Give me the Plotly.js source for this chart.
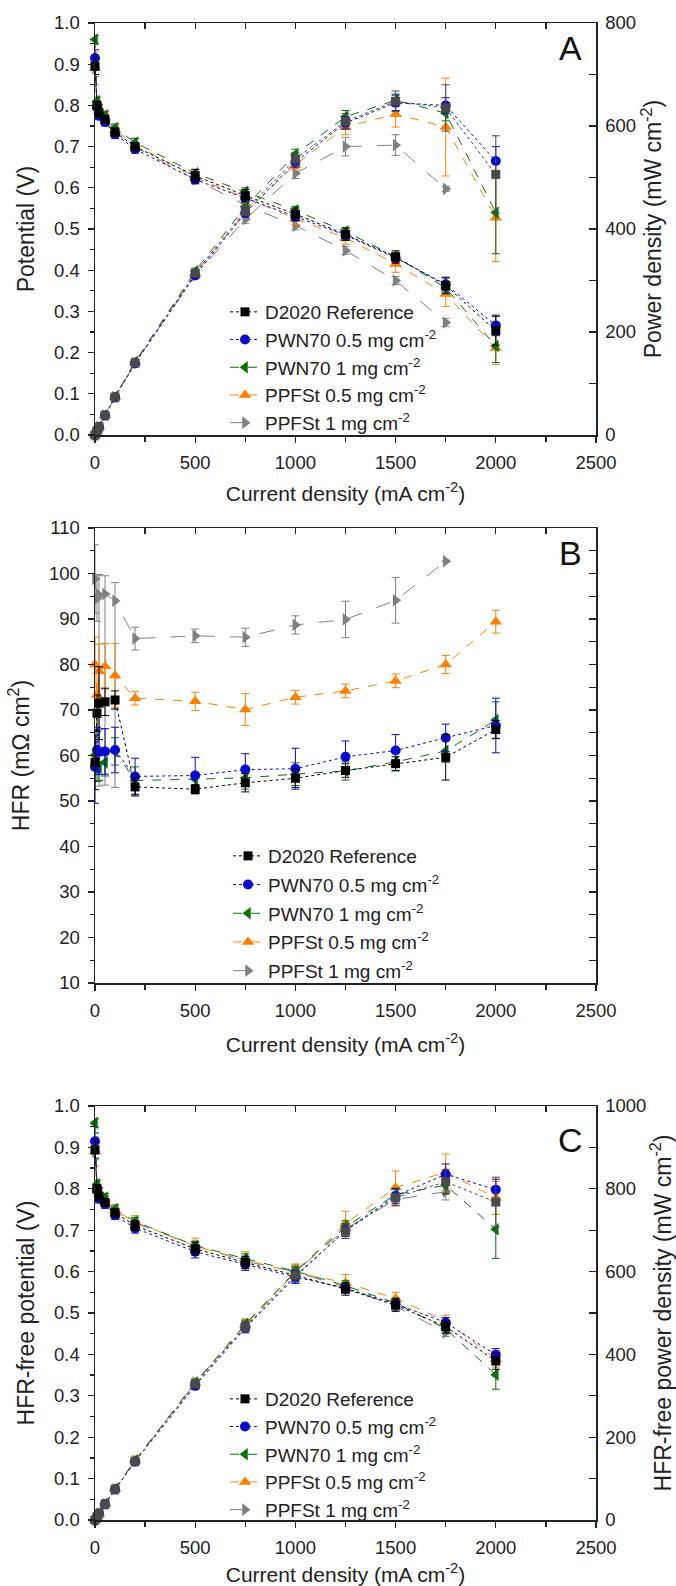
<!DOCTYPE html>
<html><head><meta charset="utf-8">
<script src="https://cdn.plot.ly/plotly-3.0.1.min.js"></script>
<style>html,body{margin:0;padding:0;background:#fff}#chart{width:676px;height:1586px}</style>
</head><body><div id="chart"></div>
<script>
// ---------- data ----------
const current = [0, 10, 20, 50, 100, 200, 500, 750, 1000, 1250, 1500, 1750, 2000];
const currentPPF1 = [0, 10, 20, 50, 100, 200, 500, 750, 1000, 1250, 1500, 1750];

const seriesNames = ['D2020 Reference', 'PWN70 0.5 mg cm<sup>-2</sup>', 'PWN70 1 mg cm<sup>-2</sup>', 'PPFSt 0.5 mg cm<sup>-2</sup>', 'PPFSt 1 mg cm<sup>-2</sup>'];

// Panel A: potential (V)
const potD2020 = [0.895, 0.800, 0.782, 0.766, 0.735, 0.700, 0.629, 0.581, 0.536, 0.487, 0.432, 0.363, 0.253];
const potPWN05 = [0.915, 0.795, 0.775, 0.760, 0.730, 0.694, 0.620, 0.575, 0.530, 0.485, 0.430, 0.366, 0.266];
const potPWN1  = [0.960, 0.810, 0.792, 0.776, 0.745, 0.710, 0.635, 0.590, 0.545, 0.494, 0.433, 0.357, 0.216];
const potPPF05 = [0.890, 0.805, 0.785, 0.770, 0.740, 0.705, 0.625, 0.576, 0.525, 0.478, 0.415, 0.342, 0.211];
const potPPF1  = [0.890, 0.800, 0.780, 0.766, 0.736, 0.700, 0.620, 0.558, 0.508, 0.448, 0.375, 0.273];
const potErrD2020 = [0.02, 0.01, 0.01, 0.01, 0.01, 0.01, 0.015, 0.015, 0.015, 0.015, 0.015, 0.02, 0.035];
const potErrPWN05 = [0.02, 0.01, 0.01, 0.01, 0.01, 0.01, 0.01, 0.01, 0.01, 0.01, 0.01, 0.015, 0.025];
const potErrPWN1  = [0.01, 0.01, 0.01, 0.01, 0.01, 0.01, 0.01, 0.01, 0.01, 0.01, 0.01, 0.01, 0.04];
const potErrPPF05 = [0.04, 0.01, 0.01, 0.01, 0.01, 0.015, 0.015, 0.015, 0.015, 0.015, 0.02, 0.03, 0.04];
const potErrPPF1  = [0.02, 0.01, 0.01, 0.01, 0.01, 0.01, 0.01, 0.01, 0.01, 0.01, 0.01, 0.01];

// Panel A: power density (mW cm-2)
const powD2020 = [0, 8.0, 15.6, 38.3, 73.5, 140, 314, 436, 536, 609, 648, 635, 506];
const powPWN05 = [0, 8.0, 15.5, 38.0, 73.0, 139, 310, 431, 530, 606, 645, 640, 532];
const powPWN1  = [0, 8.1, 15.8, 38.8, 74.5, 142, 318, 443, 545, 618, 650, 625, 432];
const powPPF05 = [0, 8.1, 15.7, 38.5, 74.0, 141, 313, 432, 525, 598, 623, 598, 422];
const powPPF1  = [0, 8.0, 15.6, 38.3, 73.6, 140, 310, 419, 508, 560, 563, 478];
const powErrD2020 = [0, 0.3, 0.5, 1, 2, 3, 6, 10, 12, 15, 20, 45, 75];
const powErrPWN05 = [0, 0.3, 0.5, 1, 2, 3, 6, 8, 10, 12, 15, 15, 28];
const powErrPWN1  = [0, 0.3, 0.5, 1, 2, 3, 6, 8, 10, 12, 12, 15, 80];
const powErrPPF05 = [0, 0.3, 0.5, 1, 2, 3, 6, 8, 10, 15, 25, 95, 85];
const powErrPPF1  = [0, 0.3, 0.5, 1, 2, 3, 6, 8, 10, 18, 20, 5];

// Panel B: HFR (mOhm cm2)
const hfrD2020 = [58.5, 69.3, 71.5, 71.8, 72.2, 53.1, 52.6, 54.0, 55.0, 56.7, 58.2, 59.6, 65.7];
const hfrPWN05 = [57.5, 61.2, 60.8, 60.9, 61.2, 55.4, 55.6, 56.9, 57.1, 59.7, 61.1, 63.9, 66.6];
const hfrPWN1  = [60.1, 57.3, 57.5, 58.5, 60.9, 54.5, 54.8, 55.1, 55.9, 56.6, 58.6, 61.0, 67.8];
const hfrPPF05 = [80.0, 73.3, 78.5, 79.6, 77.6, 72.6, 71.9, 70.1, 72.8, 74.2, 76.4, 80.0, 89.4];
const hfrPPF1  = [98.8, 94.5, 95.3, 95.5, 94.0, 85.7, 86.3, 86.0, 88.7, 89.9, 94.1, 102.7];
const hfrErrD2020 = [6, 4, 8, 3, 2, 2, 1, 2, 2, 1.5, 1.5, 5, 2];
const hfrErrPWN05 = [8, 5, 5, 5, 5, 4, 4, 3.5, 4.5, 3.5, 3.5, 3, 6];
const hfrErrPWN1  = [3, 3, 3, 3, 3, 3, 1.5, 2.5, 2.5, 2, 2, 2.5, 4];
const hfrErrPPF05 = [6, 5, 6, 5, 7, 1.5, 2, 3.5, 1.5, 1.5, 1.5, 2, 2.5];
const hfrErrPPF1  = [7.5, 5, 4.5, 4, 4, 2.5, 1.5, 2, 2, 4, 5, 0];
const hfrErrLowPPF1 = [7.5, 5, 42, 42, 41, 2.5, 1.5, 2, 2, 4, 5, 0];

// Panel C: HFR-free potential (V)
const fpotD2020 = [0.894, 0.800, 0.782, 0.767, 0.742, 0.711, 0.655, 0.622, 0.591, 0.558, 0.519, 0.467, 0.384];
const fpotPWN05 = [0.915, 0.796, 0.776, 0.763, 0.736, 0.705, 0.648, 0.618, 0.587, 0.560, 0.522, 0.477, 0.399];
const fpotPWN1  = [0.959, 0.811, 0.793, 0.779, 0.751, 0.721, 0.663, 0.631, 0.601, 0.566, 0.524, 0.462, 0.351];
const fpotPPF05 = [0.890, 0.806, 0.787, 0.774, 0.748, 0.720, 0.661, 0.628, 0.598, 0.573, 0.535, 0.480, 0.389];
const fpotPPF1  = [0.890, 0.801, 0.782, 0.771, 0.745, 0.717, 0.663, 0.625, 0.599, 0.562, 0.516, 0.453];
const fpotErrD2020 = [0.02, 0.01, 0.01, 0.01, 0.01, 0.012, 0.015, 0.015, 0.015, 0.015, 0.015, 0.015, 0.02];
const fpotErrPWN05 = [0.02, 0.01, 0.01, 0.01, 0.01, 0.012, 0.015, 0.015, 0.015, 0.012, 0.012, 0.012, 0.015];
const fpotErrPWN1  = [0.01, 0.01, 0.01, 0.01, 0.01, 0.01, 0.01, 0.012, 0.012, 0.012, 0.012, 0.012, 0.035];
const fpotErrPPF05 = [0.035, 0.01, 0.01, 0.01, 0.01, 0.015, 0.02, 0.02, 0.02, 0.02, 0.015, 0.015, 0.02];
const fpotErrPPF1  = [0.02, 0.01, 0.01, 0.01, 0.01, 0.01, 0.01, 0.01, 0.01, 0.01, 0.01, 0.01];

// Panel C: HFR-free power density (mW cm-2)
const fpowD2020 = [0, 8.0, 15.6, 38.4, 74.2, 142, 328, 467, 591, 698, 779, 817, 768];
const fpowPWN05 = [0, 8.0, 15.5, 38.2, 73.6, 141, 324, 464, 587, 700, 783, 835, 798];
const fpowPWN1  = [0, 8.1, 15.9, 39.0, 75.1, 144, 332, 473, 601, 708, 786, 809, 702];
const fpowPPF05 = [0, 8.1, 15.7, 38.7, 74.8, 144, 331, 471, 598, 716, 803, 840, 778];
const fpowPPF1  = [0, 8.0, 15.6, 38.6, 74.5, 143, 332, 469, 599, 703, 774, 793];
const fpowErrD2020 = [0, 0.3, 0.5, 1, 2, 3, 8, 12, 15, 18, 20, 30, 60];
const fpowErrPWN05 = [0, 0.3, 0.5, 1, 2, 3, 8, 12, 15, 15, 18, 25, 25];
const fpowErrPWN1  = [0, 0.3, 0.5, 1, 2, 3, 8, 10, 12, 15, 15, 20, 70];
const fpowErrPPF05 = [0, 0.3, 0.5, 1, 2, 3, 8, 15, 20, 30, 40, 44, 40];
const fpowErrPPF1  = [0, 0.3, 0.5, 1, 2, 3, 8, 10, 12, 15, 15, 20];

// ---------- styling ----------
const FONT = 'Liberation Sans, Arial, sans-serif';
const W = 676, H = 1586;
const px = v => v / W;
const py = v => 1 - v / H;

const styles = [
  {color: '#000000', powColor: '#4a4a4a', symbol: 'square', size: 9, dash: 'dot', rank: 1},
  {color: '#0a0ad0', powColor: '#0a0ad0', symbol: 'circle', size: 10, dash: 'dot', rank: 2},
  {color: '#0b700b', powColor: '#0b700b', symbol: 'triangle-left', size: 11, dash: 'dash', rank: 3},
  {color: '#ff8000', powColor: '#ff8000', symbol: 'triangle-up', size: 11, dash: 'dash', rank: 4},
  {color: '#808080', powColor: '#808080', symbol: 'triangle-right', size: 11, dash: 'longdash', rank: 5}
];

function mk(idx, x, y, err, xa, ya, legend, showlegend, power, errLow) {
  const s = styles[idx];
  const c = power ? s.powColor : s.color;
  const ey = {type: 'data', array: err, visible: true, color: c, thickness: 1, width: 4};
  if (errLow) { ey.symmetric = false; ey.arrayminus = errLow; }
  return {
    type: 'scatter', mode: 'lines+markers', x: x, y: y,
    xaxis: xa, yaxis: ya, name: seriesNames[idx],
    legend: legend, legendgroup: legend + '_' + idx, legendrank: s.rank,
    showlegend: showlegend, cliponaxis: false,
    line: {color: c, width: 1, dash: s.dash},
    marker: {symbol: s.symbol, size: s.size, color: c, line: {width: 0}},
    error_y: ey
  };
}

const panelA = [
  [currentPPF1, potPPF1, potErrPPF1, powPPF1, powErrPPF1, 4],
  [current, potPPF05, potErrPPF05, powPPF05, powErrPPF05, 3],
  [current, potPWN1, potErrPWN1, powPWN1, powErrPWN1, 2],
  [current, potPWN05, potErrPWN05, powPWN05, powErrPWN05, 1],
  [current, potD2020, potErrD2020, powD2020, powErrD2020, 0]
];
const panelB = [
  [currentPPF1, hfrPPF1, hfrErrPPF1, 4, hfrErrLowPPF1],
  [current, hfrPPF05, hfrErrPPF05, 3, null],
  [current, hfrPWN1, hfrErrPWN1, 2, null],
  [current, hfrPWN05, hfrErrPWN05, 1, null],
  [current, hfrD2020, hfrErrD2020, 0, null]
];
const panelC = [
  [currentPPF1, fpotPPF1, fpotErrPPF1, fpowPPF1, fpowErrPPF1, 4],
  [current, fpotPPF05, fpotErrPPF05, fpowPPF05, fpowErrPPF05, 3],
  [current, fpotPWN1, fpotErrPWN1, fpowPWN1, fpowErrPWN1, 2],
  [current, fpotPWN05, fpotErrPWN05, fpowPWN05, fpowErrPWN05, 1],
  [current, fpotD2020, fpotErrD2020, fpowD2020, fpowErrD2020, 0]
];

const traces = [];
panelA.forEach(r => traces.push(mk(r[5], r[0], r[3], r[4], 'x', 'y2', 'legend', false, true)));
panelA.forEach(r => traces.push(mk(r[5], r[0], r[1], r[2], 'x', 'y', 'legend', true, false)));
panelB.forEach(r => traces.push(mk(r[3], r[0], r[1], r[2], 'x2', 'y3', 'legend2', true, false, r[4])));
panelC.forEach(r => traces.push(mk(r[5], r[0], r[3], r[4], 'x3', 'y6', 'legend3', false, true)));
panelC.forEach(r => traces.push(mk(r[5], r[0], r[1], r[2], 'x3', 'y5', 'legend3', true, false)));
// empty helpers so the mirror axes get drawn
[['x4','y'],['x5','y3'],['x6','y5'],['x2','y4']].forEach(p => traces.push({type:'scatter', x: [], y: [], xaxis: p[0], yaxis: p[1], showlegend: false, hoverinfo: 'skip'}));

const AX = '#222';
const TICKF = 18.5, TITLEX = 21, TITLEY = 23;
const xDom = [px(95), px(596)];
function bottomX(anchor, standoff) {
  return {
    domain: xDom, anchor: anchor, range: [0, 2500], tick0: 0, dtick: 500,
    ticks: 'outside', ticklen: 6, tickwidth: 1.3, tickcolor: AX,
    minor: {dtick: 250, tick0: 0, ticks: 'outside', ticklen: 5, tickwidth: 1.3, tickcolor: AX},
    showline: true, linecolor: AX, linewidth: 1.5, showgrid: false, zeroline: false,
    tickfont: {size: TICKF, color: AX}, ticklabelstandoff: 4,
    title: {text: 'Current density (mA cm<sup>-2</sup>)', font: {size: TITLEX, color: AX}, standoff: standoff}
  };
}
function topX(over, anchor) {
  return {
    overlaying: over, anchor: anchor, side: 'top', range: [0, 2500], tick0: 0, dtick: 250,
    ticks: 'inside', ticklen: 6, tickwidth: 1.3, tickcolor: AX, showticklabels: false,
    showline: true, linecolor: AX, linewidth: 1.5, showgrid: false, zeroline: false
  };
}
function leftY(dom, range, dtick, minor, fmt, title, anchor, standoff) {
  return {
    domain: dom, anchor: anchor, range: range, dtick: dtick, tick0: 0, tickformat: fmt,
    ticks: 'outside', ticklen: 6, tickwidth: 1.3, tickcolor: AX,
    minor: {dtick: minor, ticks: 'outside', ticklen: 4, tickwidth: 1.3, tickcolor: AX},
    showline: true, linecolor: AX, linewidth: 1.5, showgrid: false, zeroline: false,
    tickfont: {size: TICKF, color: AX}, ticklabelstandoff: 4,
    title: {text: title, font: {size: TITLEY, color: AX}, standoff: standoff}
  };
}
function rightY(over, range, dtick, minor, title, anchor, labels) {
  const ax = {
    overlaying: over, anchor: anchor, side: 'right', range: range, dtick: dtick, tick0: 0,
    ticks: 'inside', ticklen: 7, tickwidth: 1.3, tickcolor: AX,
    minor: {dtick: minor, ticks: 'inside', ticklen: 7, tickwidth: 1.3, tickcolor: AX},
    showline: true, linecolor: AX, linewidth: 1.5, showgrid: false, zeroline: false,
    showticklabels: labels, tickfont: {size: TICKF, color: AX}, ticklabelstandoff: 4
  };
  if (title) ax.title = {text: title, font: {size: TITLEY, color: AX}, standoff: 10};
  return ax;
}

const domA = [py(435), py(23)];
const domB = [py(983), py(528)];
const domC = [py(1520), py(1106)];

function legendAt(xpx, ypx, gap) {
  return {x: px(xpx), xanchor: 'left', y: py(ypx), yanchor: 'top', bgcolor: 'rgba(0,0,0,0)',
    font: {size: 19, color: '#222', family: FONT}, tracegroupgap: gap, itemwidth: 30, traceorder: 'grouped'};
}

const layout = {
  width: W, height: H, margin: {l: 0, r: 0, t: 0, b: 0},
  paper_bgcolor: '#fff', plot_bgcolor: 'rgba(0,0,0,0)',
  font: {family: FONT, color: AX},
  xaxis: bottomX('y', 14), xaxis2: bottomX('y3', 17), xaxis3: bottomX('y5', 14),
  xaxis4: topX('x', 'y'), xaxis5: topX('x2', 'y3'), xaxis6: topX('x3', 'y5'),
  yaxis: leftY(domA, [0, 1.0], 0.1, 0.05, '.1f', 'Potential (V)', 'x', 13),
  yaxis2: rightY('y', [0, 800], 200, 100, 'Power density (mW cm<sup>-2</sup>)', 'x', true),
  yaxis3: leftY(domB, [10, 110], 10, 5, 'd', 'HFR (mΩ cm<sup>2</sup>)', 'x2', 13),
  yaxis4: rightY('y3', [10, 110], 5, 5, null, 'x2', false),
  yaxis5: leftY(domC, [0, 1.0], 0.1, 0.05, '.1f', 'HFR-free potential (V)', 'x3', 13),
  yaxis6: rightY('y5', [0, 1000], 200, 100, 'HFR-free power density (mW cm<sup>-2</sup>)', 'x3', true),
  legend: legendAt(225, 293, 0),
  legend2: legendAt(228, 837, 1),
  legend3: legendAt(225, 1380, 0),
  showlegend: true,
  annotations: [
    {text: 'A', x: px(570), y: py(48), xref: 'paper', yref: 'paper', xanchor: 'center', yanchor: 'middle', showarrow: false, font: {size: 34, color: '#111'}},
    {text: 'B', x: px(570), y: py(553), xref: 'paper', yref: 'paper', xanchor: 'center', yanchor: 'middle', showarrow: false, font: {size: 34, color: '#111'}},
    {text: 'C', x: px(570), y: py(1140), xref: 'paper', yref: 'paper', xanchor: 'center', yanchor: 'middle', showarrow: false, font: {size: 34, color: '#111'}}
  ]
};

Plotly.newPlot('chart', traces, layout, {displayModeBar: false, staticPlot: true});
</script>
</body></html>
